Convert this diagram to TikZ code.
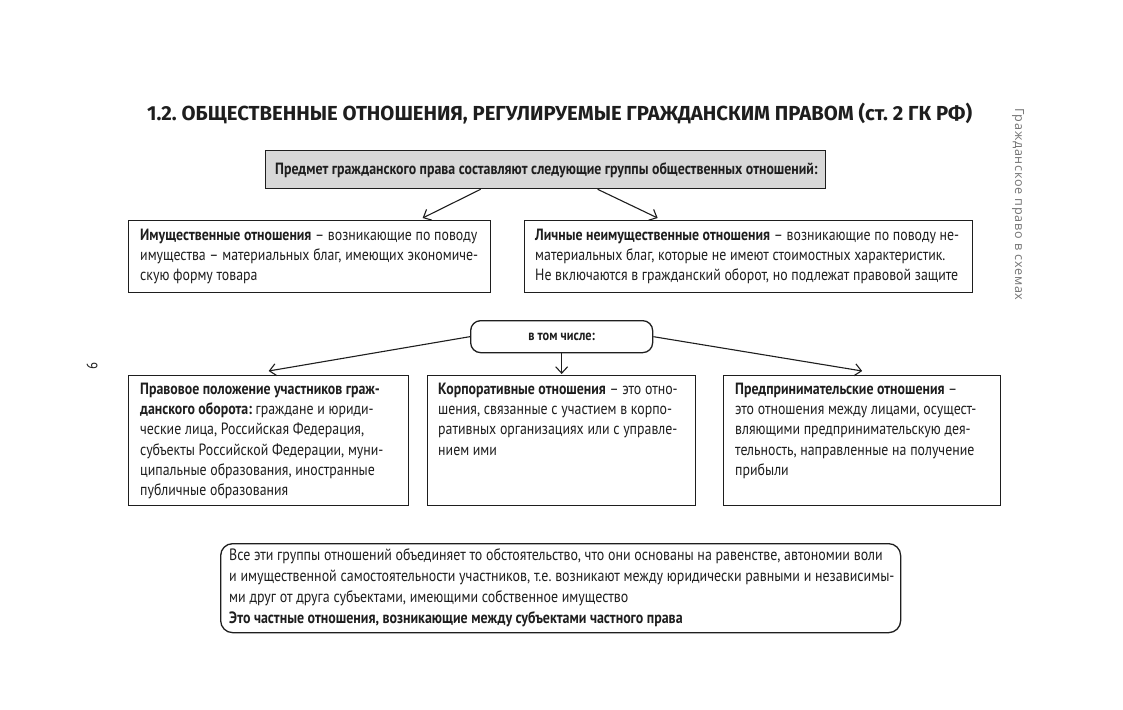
\documentclass[tikz,border=0pt]{standalone}
\usepackage{fontspec}
\setmainfont[FakeStretch=0.85]{PT Sans}
\newfontfamily\titlefont{Fira Sans}
\newfontfamily\sidefont[LetterSpace=6]{Open Sans}
\usetikzlibrary{arrows.meta,calc}
\definecolor{boxgray}{RGB}{216,216,216}
\definecolor{ink}{RGB}{30,30,30}
\frenchspacing
\tikzset{
  box/.style={draw=ink, line width=1.3pt, inner sep=0pt, anchor=north west},
  rbox/.style={box, rounded corners=11pt},
  txt/.style={anchor=north west, align=left, inner sep=0pt, text=ink,
    font=\fontsize{16.3}{20.3}\selectfont},
  arr/.style={draw=ink, line width=1.1pt, -{Straight Barb[length=6.5pt,width=12pt,line width=1.1pt]}}
}
\begin{document}
\begin{tikzpicture}[x=1pt,y=-1pt]
\useasboundingbox (0,0) rectangle (1123,709);
\fill[white] (0,0) rectangle (1123,709);

% title
\node[anchor=west, inner sep=0pt, text=ink] (title) at (147,114)
  {\titlefont\bfseries\fontsize{20.3}{22}\selectfont 1.2. ОБЩЕСТВЕННЫЕ ОТНОШЕНИЯ, РЕГУЛИРУЕМЫЕ ГРАЖДАНСКИМ ПРАВОМ (ст. 2 ГК РФ)};

% side text and page number
\node[rotate=-90, anchor=west, inner sep=0pt, text=black!55] (side) at (1018,108)
  {\sidefont\fontsize{12.6}{14}\selectfont Гражданское право в схемах};
\node[rotate=-90, inner sep=0pt, text=ink] (pg) at (92,366)
  {\fontsize{15}{16}\selectfont 9};

% top box
\node[box, fill=boxgray, minimum width=560pt, minimum height=38pt] (top) at (265,150) {};
\node[txt, anchor=west] (toptxt) at (275,170)
  {\bfseries Предмет гражданского права составляют следующие группы общественных отношений:};

% second row
\node[box, minimum width=362pt, minimum height=72pt] (imu) at (128,220) {};
\node[txt] (imutxt) at (140,228.5)
  {\textbf{Имущественные отношения} -- возникающие по поводу\\
   имущества -- материальных благ, имеющих экономиче-\\
   скую форму товара};
\node[box, minimum width=448pt, minimum height=72pt] (lich) at (524,220) {};
\node[txt] (lichtxt) at (535,228.5)
  {\textbf{Личные неимущественные отношения} -- возникающие по поводу не-\\
   материальных благ, которые не имеют стоимостных характеристик.\\
   Не включаются в гражданский оборот, но подлежат правовой защите};

\draw[arr] ([xshift=-65pt]top.south) -- ([xshift=113pt,yshift=2pt]imu.north);
\draw[arr] ([xshift=52pt]top.south) -- ([xshift=-91pt,yshift=2pt]lich.north);

% "в том числе"
\node[rbox, rounded corners=10pt, minimum width=182pt, minimum height=32pt] (vtom) at (470,320) {};
\node[inner sep=0pt, text=ink] (vtomtxt) at (vtom.center)
  {\bfseries\fontsize{14.5}{16}\selectfont в том числе:};

% third row
\node[box, minimum width=280pt, minimum height=130pt] (prav) at (128,375) {};
\node[txt] (pravtxt) at (140,382.5)
  {\textbf{Правовое положение участников граж-}\\
   \textbf{данского оборота:} граждане и юриди-\\
   ческие лица, Российская Федерация,\\
   субъекты Российской Федерации, муни-\\
   ципальные образования, иностранные\\
   публичные образования};
\node[box, minimum width=268pt, minimum height=130pt] (korp) at (427,375) {};
\node[txt] (korptxt) at (438,382.5)
  {\textbf{Корпоративные отношения} -- это отно-\\
   шения, связанные с участием в корпо-\\
   ративных организациях или с управле-\\
   нием ими};
\node[box, minimum width=277pt, minimum height=130pt] (pred) at (723,375) {};
\node[txt] (predtxt) at (735,382.5)
  {\textbf{Предпринимательские отношения} --\\
   это отношения между лицами, осущест-\\
   вляющими предпринимательскую дея-\\
   тельность, направленные на получение\\
   прибыли};

\draw[arr] (vtom.west) -- ([yshift=4pt]prav.north);
\draw[arr] (vtom.south) -- ([yshift=1pt]korp.north);
\draw[arr] (vtom.east) -- ([yshift=4pt]pred.north);

% bottom box
\node[rbox, rounded corners=12pt, minimum width=680pt, minimum height=89pt] (vse) at (220,543) {};
\node[txt, font=\fontsize{16.4}{21.2}\selectfont] (vsetxt) at (229,548)
  {Все эти группы отношений объединяет то обстоятельство, что они основаны на равенстве, автономии воли\\
   и имущественной самостоятельности участников, т.е. возникают между юридически равными и независимы-\\
   ми друг от друга субъектами, имеющими собственное имущество\\
   \textbf{Это частные отношения, возникающие между субъектами частного права}};
\end{tikzpicture}
\end{document}
